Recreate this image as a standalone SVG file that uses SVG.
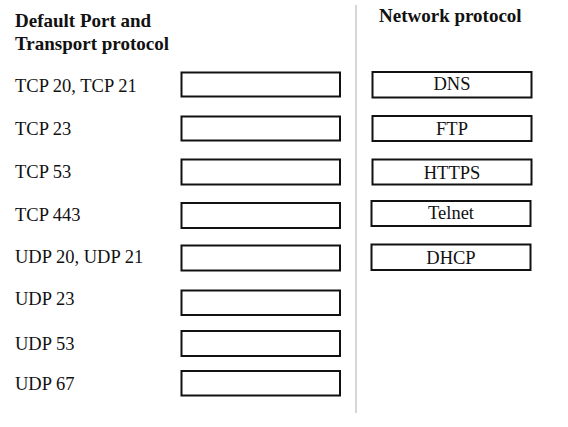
<svg xmlns="http://www.w3.org/2000/svg" width="568" height="427" viewBox="0 0 568 427">
<style>
text{font-family:"Liberation Serif","Times New Roman",serif;fill:#111}
.h{font-weight:bold;font-size:19px}
.l{font-size:18.5px}
.r{font-size:18.5px;text-anchor:middle}
.box{fill:#fff;stroke:#111;stroke-width:2}
</style>
<rect width="568" height="427" fill="#fff"/>
<g id="headers">
<text class="h" x="15" y="27">Default Port and</text>
<text class="h" x="15" y="50">Transport protocol</text>
<text class="h" x="379" y="22">Network protocol</text>
</g>
<g id="connectors">
<line x1="356" y1="5" x2="356" y2="413" stroke="#c8c8c8" stroke-width="1.5"/>
</g>
<g id="tcp2021"><text class="l" x="15" y="91.5">TCP 20, TCP 21</text><rect class="box" x="181.5" y="72.5" width="158.5" height="24"/></g>
<g id="tcp23"><text class="l" x="15" y="134.5">TCP 23</text><rect class="box" x="181.5" y="116.5" width="158.5" height="24"/></g>
<g id="tcp53"><text class="l" x="15" y="177.5">TCP 53</text><rect class="box" x="181.5" y="159.5" width="158.5" height="25"/></g>
<g id="tcp443"><text class="l" x="15" y="220.5">TCP 443</text><rect class="box" x="181.5" y="203" width="158.5" height="25"/></g>
<g id="udp2021"><text class="l" x="15" y="262.5">UDP 20, UDP 21</text><rect class="box" x="181.5" y="245.5" width="158.5" height="25"/></g>
<g id="udp23"><text class="l" x="15" y="305">UDP 23</text><rect class="box" x="181.5" y="290.5" width="158.5" height="24.5"/></g>
<g id="udp53"><text class="l" x="15" y="349.5">UDP 53</text><rect class="box" x="181.5" y="331" width="158.5" height="25"/></g>
<g id="udp67"><text class="l" x="15" y="390">UDP 67</text><rect class="box" x="181.5" y="371" width="158.5" height="24.5"/></g>
<g id="dns"><rect class="box" x="372.5" y="72" width="159" height="25.5"/><text class="r" x="452" y="90">DNS</text></g>
<g id="ftp"><rect class="box" x="372.5" y="116" width="159" height="25"/><text class="r" x="452" y="134.5">FTP</text></g>
<g id="https"><rect class="box" x="372.5" y="159.5" width="159" height="25"/><text class="r" x="452" y="178.5">HTTPS</text></g>
<g id="telnet"><rect class="box" x="371.5" y="201" width="159" height="25"/><text class="r" x="451" y="218.5">Telnet</text></g>
<g id="dhcp"><rect class="box" x="371.5" y="244.5" width="159" height="25.5"/><text class="r" x="451" y="263.5">DHCP</text></g>
</svg>
